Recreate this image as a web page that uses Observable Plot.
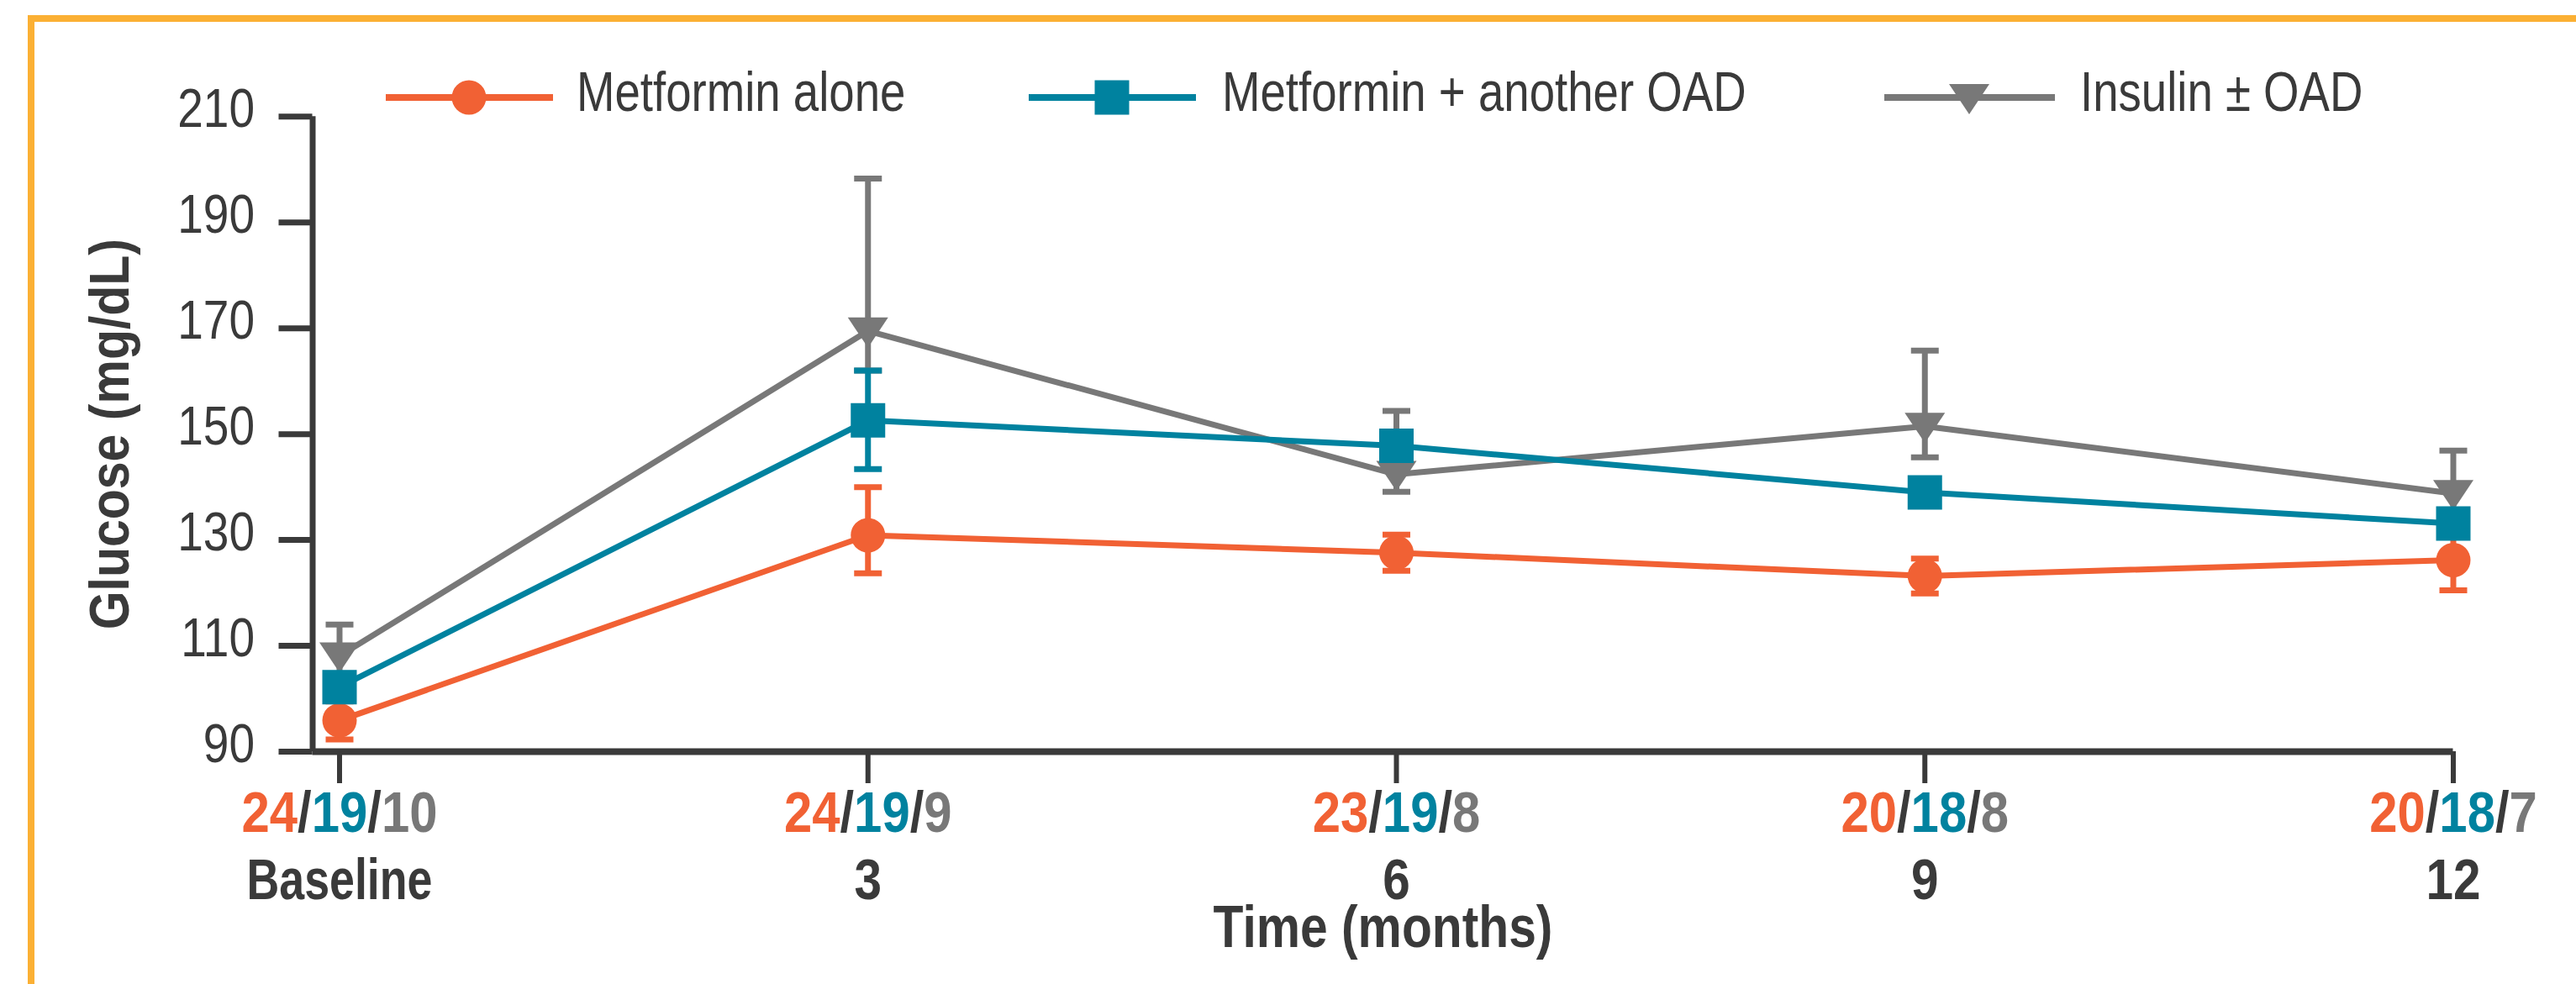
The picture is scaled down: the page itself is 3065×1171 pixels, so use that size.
<!DOCTYPE html>
<html>
<head>
<meta charset="utf-8">
<script src="https://cdn.jsdelivr.net/npm/d3@7"></script>
<script src="https://cdn.jsdelivr.net/npm/@observablehq/plot@0.6"></script>
<style>
html,body{margin:0;padding:0;background:#fff;}
#wrap{position:relative;width:3065px;height:1171px;overflow:hidden;background:#fff;
  font-family:"Liberation Sans Narrow","Arial Narrow","Liberation Sans",sans-serif;}
#frame{position:absolute;left:33px;top:18px;width:4000px;height:2000px;
  border-top:8px solid #FBB034;border-left:8px solid #FBB034;box-sizing:border-box;}
#chart{position:absolute;left:0;top:0;}
#legend{position:absolute;left:0;top:0;}
</style>
</head>
<body>
<div id="wrap">
  <div id="frame"></div>
  <div id="chart"></div>
  <svg id="legend" width="3065" height="200"></svg>
</div>
<script>
// ---------- data ----------
const months = [0, 3, 6, 9, 12];
const timeLabels = ["Baseline", "3", "6", "9", "12"];
const yTicks = [90, 110, 130, 150, 170, 190, 210];

const seriesNames = ["Metformin alone", "Metformin + another OAD", "Insulin ± OAD"];
const seriesColors = ["#F16134", "#00829F", "#787878"];

// Metformin alone
const metMean = [95.9, 130.9, 127.6, 123.2, 126.2];
const metLo   = [92.3, 123.7, 124.2, 119.9, 120.5];
const metHi   = [99.5, 140.0, 131.0, 126.5, 131.9];
// Metformin + another OAD
const comboMean = [102.2, 152.6, 147.8, 139.0, 133.1];
const comboLo   = [100.0, 143.4, 145.5, 136.8, 130.9];
const comboHi   = [104.4, 162.0, 150.1, 141.2, 135.3];
// Insulin ± OAD
const insMean = [108.1, 169.5, 142.4, 151.5, 138.8];
const insLo   = [104.0, 162.0, 139.1, 145.6, 134.0];
const insHi   = [114.0, 198.3, 154.4, 165.8, 146.9];

// patients per group at each visit
const nMet   = [24, 24, 23, 20, 20];
const nCombo = [19, 19, 19, 18, 18];
const nIns   = [10, 9, 8, 8, 7];

// ---------- build tables ----------
const toRows = (mean, lo, hi) => months.map((m, i) => ({month: m, mean: mean[i], lo: lo[i], hi: hi[i]}));
const metRows = toRows(metMean, metLo, metHi);
const comboRows = toRows(comboMean, comboLo, comboHi);
const insRows = toRows(insMean, insLo, insHi);
const nRows = months.map((m, i) => ({month: m, label: `${nMet[i]}/${nCombo[i]}/${nIns[i]}`}));
const tRows = months.map((m, i) => ({month: m, label: timeLabels[i]}));

// ---------- symbols ----------
const circleSym = {draw(c) { c.moveTo(20.5, 0); c.arc(0, 0, 20.5, 0, 2 * Math.PI); c.closePath(); }};
const squareSym = {draw(c) { c.rect(-20.5, -20.5, 41, 41); }};
const triSym = {draw(c) { c.moveTo(-24, -16); c.lineTo(24, -16); c.lineTo(0, 20); c.closePath(); }};
const capSym = {draw(c) { c.rect(-16.5, -3.5, 33, 7); }};

const ink = "#3A3A3A";
const FONT = '"Liberation Sans Narrow","Arial Narrow","Liberation Sans",sans-serif';

function seriesMarks(rows, color, sym) {
  return [
    Plot.ruleX(rows, {x: "month", y1: "lo", y2: "hi", stroke: color, strokeWidth: 7}),
    Plot.dot(rows, {x: "month", y: "lo", symbol: capSym, fill: color}),
    Plot.dot(rows, {x: "month", y: "hi", symbol: capSym, fill: color}),
    Plot.line(rows, {x: "month", y: "mean", stroke: color, strokeWidth: 7}),
    Plot.dot(rows, {x: "month", y: "mean", symbol: sym, fill: color})
  ];
}

const xMin = -0.1527;

const chart = Plot.plot({
  width: 3065,
  height: 1171,
  marginLeft: 371.5,
  marginRight: 146.5,
  marginTop: 138.3,
  marginBottom: 277,
  style: {fontFamily: FONT, fontSize: "64px", color: ink, background: "transparent", overflow: "visible"},
  x: {domain: [xMin, 12], label: null},
  y: {domain: [90, 210], label: null},
  marks: [
    // axes
    Plot.axisY({ticks: yTicks, tickSize: 40, strokeWidth: 7, stroke: ink, tickFormat: () => "", label: null}),
    Plot.text(yTicks, {y: d => d, text: d => String(d), frameAnchor: "left", dx: -69, dy: -8,
      textAnchor: "end", lineAnchor: "middle", fontSize: 64, fill: ink}),
    Plot.axisX({ticks: months, tickSize: 38, strokeWidth: 6, stroke: ink, tickFormat: () => "", label: null}),
    Plot.ruleX([xMin], {y1: 90, y2: 210, stroke: ink, strokeWidth: 7}),
    Plot.ruleY([90], {stroke: ink, strokeWidth: 8}),
    // x labels
    Plot.text(nRows, {x: "month", text: "label", frameAnchor: "bottom", dy: 73.5, lineAnchor: "middle",
      textAnchor: "middle", fontWeight: "bold", fontSize: 68, fill: ink}),
    Plot.text(tRows, {x: "month", text: "label", frameAnchor: "bottom", dy: 153.5, lineAnchor: "middle",
      textAnchor: "middle", fontWeight: "bold", fontSize: 68, fill: ink}),
    Plot.text(["Time (months)"], {frameAnchor: "bottom", dy: 210, lineAnchor: "middle", textAnchor: "middle",
      fontWeight: "bold", fontSize: 70, fill: ink}),
    Plot.text(["Glucose (mg/dL)"], {frameAnchor: "left", rotate: -90, dx: -219.5, lineAnchor: "bottom",
      textAnchor: "middle", fontWeight: "bold", fontSize: 66, fill: ink}),
    // series
    ...seriesMarks(metRows, seriesColors[0], circleSym),
    ...seriesMarks(insRows, seriesColors[2], triSym),
    ...seriesMarks(comboRows, seriesColors[1], squareSym)
  ]
});

// colour the n labels
chart.querySelectorAll("text").forEach(t => {
  const m = t.textContent.match(/^(\d+)\/(\d+)\/(\d+)$/);
  if (!m) return;
  t.textContent = "";
  const parts = [[m[1], seriesColors[0]], ["/", ink], [m[2], seriesColors[1]], ["/", ink], [m[3], seriesColors[2]]];
  for (const [s, c] of parts) {
    const ts = document.createElementNS("http://www.w3.org/2000/svg", "tspan");
    ts.setAttribute("fill", c);
    ts.textContent = s;
    t.appendChild(ts);
  }
});
document.getElementById("chart").appendChild(chart);

// ---------- legend ----------
const legendLayout = [
  {x1: 459, x2: 658, sx: 558, tx: 686, sym: circleSym},
  {x1: 1224, x2: 1423, sx: 1323, tx: 1454, sym: squareSym},
  {x1: 2242, x2: 2445, sx: 2343, tx: 2475, sym: triSym}
];
const lg = d3.select("#legend");
legendLayout.forEach((L, i) => {
  const g = lg.append("g");
  g.append("line").attr("x1", L.x1).attr("x2", L.x2).attr("y1", 116).attr("y2", 116)
    .attr("stroke", seriesColors[i]).attr("stroke-width", 8);
  g.append("path").attr("d", d3.symbol().type(L.sym)()).attr("transform", `translate(${L.sx},116)`)
    .attr("fill", seriesColors[i]);
  g.append("text").attr("x", L.tx).attr("y", 132).attr("fill", ink).attr("class", "legend-text")
    .attr("font-family", FONT).attr("font-size", 67).text(seriesNames[i]);
});

// ---------- condensed look: narrow the glyphs of a regular sans around each text's anchor ----------
function condenseFactor(t) {
  const s = t.textContent;
  if (t.classList.contains("legend-text")) return 0.815;
  if (/^\d+\/\d+\/\d+$/.test(s)) return 0.88;
  if (/^\d+$/.test(s)) return 0.86;
  if (s === "Baseline") return 0.79;
  if (s === "Time (months)") return 0.84;
  if (s === "Glucose (mg/dL)") return 0.894;
  return 0.84;
}
function condense(root) {
  root.querySelectorAll("text").forEach(t => {
    if (!t.textContent) return;
    const k = condenseFactor(t);
    const x = parseFloat(t.getAttribute("x")) || 0;
    const tr = t.getAttribute("transform") || "";
    t.setAttribute("transform", `${tr} translate(${x},0) scale(${k},1) translate(${-x},0)`.trim());
  });
}
condense(chart);
condense(document.getElementById("legend"));
</script>
</body>
</html>
